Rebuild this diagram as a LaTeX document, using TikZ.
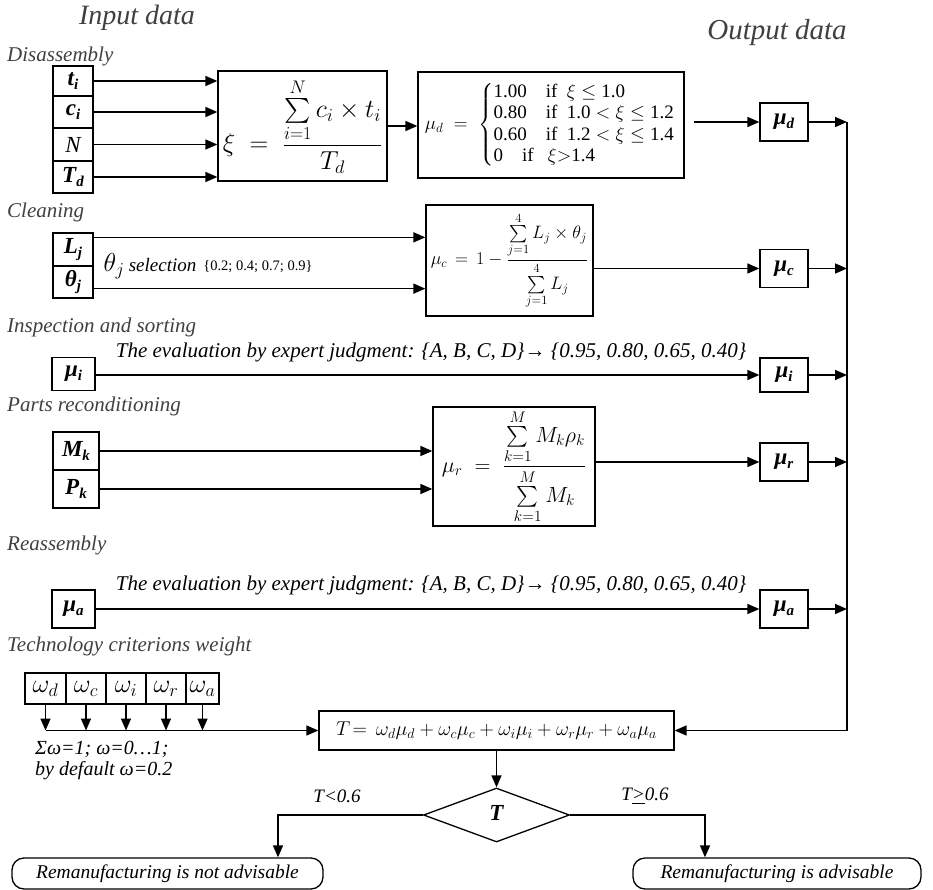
\RequirePackage{fix-cm}
\documentclass[tikz,border=0pt]{standalone}
\usepackage{amsmath}
\usepackage{fontspec}
\setmainfont{Liberation Serif}
\usetikzlibrary{arrows.meta,shapes.geometric,calc}
\newcommand\lsub[1]{\raisebox{-0.35ex}{\fontsize{15}{15}\selectfont #1}}
\newcommand\blab[2]{{\fontsize{23}{25}\selectfont\bfseries\itshape #1\lsub{#2}}}
\tikzset{
  box/.style={draw, line width=1.3pt, inner sep=0pt, fill=white},
  arr/.style={line width=1.6pt, -{Triangle[length=12pt,width=10pt]}},
  sec/.style={font=\fontsize{21}{23}\selectfont\itshape, anchor=west, inner sep=0pt, text=black!75},
  ital/.style={font=\fontsize{19}{21}\selectfont\itshape, inner sep=0pt},
  cell/.style={box, minimum width=40pt},
  outbox/.style={box, minimum width=48pt, minimum height=38pt},
  wcell/.style={box, minimum height=31pt, font=\fontsize{26}{28}\selectfont},
}
\begin{document}
\begin{tikzpicture}[x=1pt,y=-1pt]
\useasboundingbox (0,0) rectangle (933,890);
% headings
\node[font=\fontsize{28}{30}\selectfont\itshape, text=black!75] (hin) at (137,18) {Input data};
\node[font=\fontsize{29}{31}\selectfont\itshape, text=black!75] (hout) at (777,33) {Output data};
% section labels
\node[sec] (s1) at (7,56) {Disassembly};
\node[sec] (s2) at (7,212) {Cleaning};
\node[sec] (s3) at (7,327) {Inspection and sorting};
\node[sec] (s4) at (7,406) {Parts reconditioning};
\node[sec] (s5) at (7,545) {Reassembly};
\node[sec] (s6) at (7,646) {Technology criterions weight};
% ---- Disassembly
\node[cell, minimum height=30pt] (ti) at (73,81) {\blab{t}{i}};
\node[cell, minimum height=32pt] (ci) at (73,112) {\blab{c}{i}};
\node[cell, minimum height=33pt] (N) at (73,144.5) {\fontsize{23}{25}\selectfont\itshape N};
\node[cell, minimum height=32pt] (Td) at (73,177) {\blab{T}{d}};
\node[box, minimum width=169pt, minimum height=110pt] (xi) at (302.5,126)
  {\fontsize{26}{29}\selectfont $\displaystyle \xi\;=\;\frac{\sum\limits_{i=1}^{N} c_i\times t_i}{T_d}$};
\foreach \n in {ti,ci,N,Td} \draw[arr] (\n.east) -- (\n.east -| xi.west);
\node[box, minimum width=266pt, minimum height=106pt] (mudf) at (551,125)
  {\fontsize{19}{21.5}\selectfont $\mu_d\;=\;\left\{\begin{array}{@{}l@{}}
   \text{1.00\quad if }\ \xi\le\text{1.0}\\
   \text{0.80\quad if }\ \text{1.0}<\xi\le\text{1.2}\\
   \text{0.60\quad if }\ \text{1.2}<\xi\le\text{1.4}\\
   \text{0\quad if }\ \ \xi{>}\text{1.4}\end{array}\right.$\hspace*{2pt}};
\draw[arr] (xi.east) -- (xi.east -| mudf.west);
\node[outbox] (mud) at (784,122) {\blab{μ}{d}};
\draw[arr] ([xshift=9pt]mudf.east |- mud.west) -- (mud.west);
% ---- Cleaning
\node[cell, minimum height=33pt] (Lj) at (73,249.5) {\blab{L}{j}};
\node[cell, minimum height=32pt] (thj) at (73,282) {\blab{θ}{j}};
\node[box, minimum width=167pt, minimum height=111pt] (mucf) at (509.5,260.5)
  {\fontsize{18}{20}\selectfont $\mu_c\,=\,1-\dfrac{\sum\limits_{j=1}^{4}L_j\times\theta_j}{\sum\limits_{j=1}^{4}L_j}$};
\coordinate (la) at ([yshift=-5pt]Lj.north east);
\coordinate (ta) at ([yshift=10pt]thj.south east);
\draw[arr] (la) -- (la -| mucf.west);
\draw[arr] (ta) -- (ta -| mucf.west);
\node[inner sep=0pt] (thsel) at (150,266) {\fontsize{26}{28}\selectfont $\theta_j$\,{\fontsize{19}{21}\selectfont\itshape selection}};
\node[inner sep=0pt] (thval) at (258,267) {\fontsize{14.5}{16}\selectfont \{0.2; 0.4; 0.7; 0.9\}};
\node[outbox] (muc) at (784,268.5) {\blab{μ}{c}};
\draw[arr] (mucf.east |- muc.west) -- (muc.west);
% ---- Inspection
\node[box, minimum width=43pt, minimum height=33pt] (mui0) at (73.5,374) {\blab{μ}{i}};
\node[outbox, minimum height=34pt] (mui) at (784,375) {\blab{μ}{i}};
\draw[arr] (mui0.east |- mui.west) -- (mui.west);
\node[ital, font=\fontsize{21}{23}\selectfont\itshape] (ev1) at (431,352) {The evaluation by expert judgment: \{A, B, C, D\}→ \{0.95, 0.80, 0.65, 0.40\}};
% ---- Parts reconditioning
\node[box, minimum width=46pt, minimum height=38pt] (Mk) at (76,451) {\blab{M}{k}};
\node[box, minimum width=46pt, minimum height=38pt] (Pk) at (76,489) {\blab{P}{k}};
\node[box, minimum width=162pt, minimum height=119pt] (murf) at (514,466.5)
  {\fontsize{22}{24}\selectfont $\mu_r\;=\;\dfrac{\sum\limits_{k=1}^{M}M_k\rho_k}{\sum\limits_{k=1}^{M}M_k}$};
\draw[arr] (Mk.east) -- (Mk.east -| murf.west);
\draw[arr] (Pk.east) -- (Pk.east -| murf.west);
\node[outbox] (mur) at (784,462) {\blab{μ}{r}};
\draw[arr] (murf.east |- mur.west) -- (mur.west);
% ---- Reassembly
\node[box, minimum width=43pt, minimum height=38pt] (mua0) at (73.5,609) {\blab{μ}{a}};
\node[outbox] (mua) at (784,609) {\blab{μ}{a}};
\draw[arr] (mua0.east) -- (mua.west);
\node[ital, font=\fontsize{21}{23}\selectfont\itshape] (ev2) at (431,585) {The evaluation by expert judgment: \{A, B, C, D\}→ \{0.95, 0.80, 0.65, 0.40\}};
% ---- weights
\node[wcell, minimum width=41pt] (wd) at (45.5,688.5) {$\omega_d$};
\node[wcell, minimum width=40pt] (wc) at (86,688.5) {$\omega_c$};
\node[wcell, minimum width=40pt] (wi) at (126,688.5) {$\omega_i$};
\node[wcell, minimum width=40pt] (wr) at (166,688.5) {$\omega_r$};
\node[wcell, minimum width=33pt] (wa) at (202.5,688.5) {$\omega_a$};
\node[box, minimum width=355pt, minimum height=39pt] (tbox) at (496.5,730.5)
  {\fontsize{20}{22}\selectfont $T\!=\,\omega_d\mu_d+\omega_c\mu_c+\omega_i\mu_i+\omega_r\mu_r+\omega_a\mu_a$};
\foreach \n in {wd,wc,wi,wr,wa} \draw[arr] (\n.south) -- (\n.south |- tbox.west);
\draw[arr] (wd.south |- tbox.west) -- (tbox.west);
\node[ital, font=\fontsize{20}{21}\selectfont\itshape, align=left, anchor=north west] (sw) at (35,741) {Σω=1; ω=0…1;\\ by default ω=0.2};
% ---- bus
\coordinate (bustop) at (847,122);
\coordinate (busbot) at (tbox.east -| bustop);
\draw[line width=1.2pt] (bustop) -- (busbot);
\foreach \n in {mud,muc,mui,mur,mua} \draw[arr] (\n.east) -- (\n.east -| bustop);
\draw[arr] (busbot) -- (tbox.east);
% ---- decision
\node[draw, line width=1.3pt, diamond, aspect=2.7, minimum width=146pt, minimum height=54pt, inner sep=0pt] (dia) at (496.5,815) {\blab{T}{}};
\draw[arr] (tbox.south) -- (dia.north);
\node[box, rounded corners=12pt, minimum width=311pt, minimum height=31pt] (nadv) at (167.5,873.5) {\fontsize{19.5}{21}\selectfont\itshape Remanufacturing is not advisable};
\node[box, rounded corners=12pt, minimum width=288pt, minimum height=31pt] (adv) at (777,873.5) {\fontsize{19.5}{21}\selectfont\itshape Remanufacturing is advisable};
\draw[arr] (dia.west) -| ([xshift=110.5pt]nadv.north);
\draw[arr] (dia.east) -| ([xshift=-72pt]adv.north);
\node[ital] (lt) at (337,796) {T<0.6};
\node[ital] (ge) at (645,796) {T\underline{>}0.6};
\end{tikzpicture}
\end{document}
